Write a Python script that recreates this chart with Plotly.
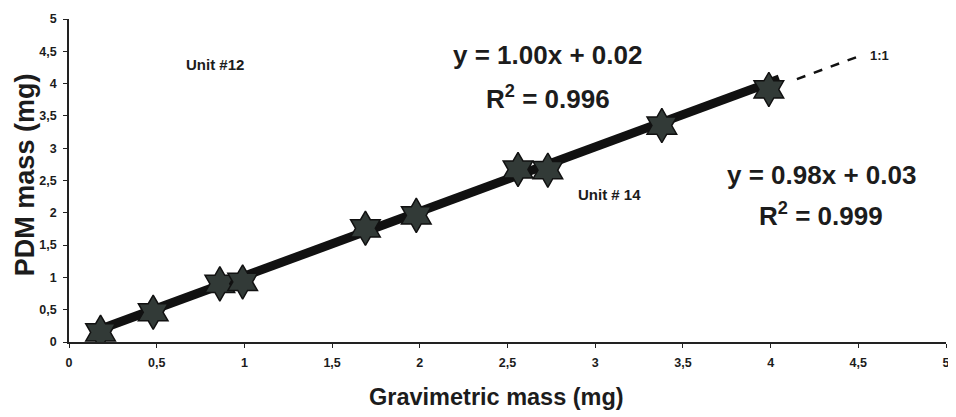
import plotly.graph_objects as go

# Data
grav_mass = [0.18, 0.48, 0.86, 0.99, 1.69, 1.98, 2.56, 2.73, 3.38, 3.99]
pdm_mass = [0.15, 0.46, 0.90, 0.93, 1.76, 1.96, 2.67, 2.66, 3.35, 3.91]
fit_x = [0.15, 4.05]
fit_slope, fit_intercept = 1.00, 0.02
fit_y = [fit_slope * v + fit_intercept for v in fit_x]
one_to_one_x = [4.15, 4.5]
one_to_one_y = [4.07, 4.42]
tick_vals = [0, 0.5, 1, 1.5, 2, 2.5, 3, 3.5, 4, 4.5, 5]
tick_text = ["0", "0,5", "1", "1,5", "2", "2,5", "3", "3,5", "4", "4,5", "5"]

FONT = "Liberation Sans, Arial"
INK = "#1c1c1c"

fig = go.Figure()
fig.add_trace(go.Scatter(x=fit_x, y=fit_y, mode="lines",
                         line=dict(color="#111111", width=9), hoverinfo="skip"))
fig.add_trace(go.Scatter(x=one_to_one_x, y=one_to_one_y, mode="lines",
                         line=dict(color="#111111", width=2.5, dash="dash"), hoverinfo="skip"))
fig.add_trace(go.Scatter(x=grav_mass, y=pdm_mass, mode="markers",
                         marker=dict(symbol="hexagram", size=26, color="#323a37",
                                     line=dict(color="#111111", width=1.5))))

anns = [
    dict(x=0.83, y=4.29, text="<b>Unit #12</b>", size=15),
    dict(x=2.73, y=4.44, text="<b>y = 1.00x + 0.02</b>", size=26),
    dict(x=2.73, y=3.79, text="<b>R<sup>2</sup> = 0.996</b>", size=26),
    dict(x=3.08, y=2.28, text="<b>Unit # 14</b>", size=15),
    dict(x=4.29, y=2.585, text="<b>y = 0.98x + 0.03</b>", size=26),
    dict(x=4.29, y=1.98, text="<b>R<sup>2</sup> = 0.999</b>", size=26),
    dict(x=4.62, y=4.44, text="<b>1:1</b>", size=13),
]
for a in anns:
    fig.add_annotation(x=a["x"], y=a["y"], text=a["text"], showarrow=False,
                       xanchor="center", yanchor="middle",
                       font=dict(family=FONT, size=a["size"], color=INK))

# axis titles as paper annotations for exact placement
fig.add_annotation(xref="paper", yref="paper", x=0.487, y=-0.170,
                   xanchor="center", yanchor="middle",
                   text="<b>Gravimetric mass (mg)</b>", showarrow=False,
                   font=dict(family=FONT, size=23.5, color=INK))
fig.add_annotation(xref="paper", yref="paper", x=-0.050, y=0.517,
                   xanchor="center", yanchor="middle",
                   text="<b>PDM mass (mg)</b>", showarrow=False, textangle=-90,
                   font=dict(family=FONT, size=27, color=INK))

# page body has an 8px margin, so the figure is sized/offset to compensate
fig.update_layout(
    width=948, height=409,
    margin=dict(l=61, r=10, t=11, b=75),
    paper_bgcolor="white", plot_bgcolor="white",
    showlegend=False,
    font=dict(family=FONT, color=INK),
)
axis_common = dict(range=[0, 5], tickvals=tick_vals, ticktext=tick_text,
                   showgrid=False, zeroline=False, showline=True, linecolor="#222222", linewidth=1.5,
                   ticks="outside", ticklen=4, tickcolor="#222222", automargin=False,
                   tickfont=dict(size=12.5, family=FONT, weight="bold", color=INK))
fig.update_xaxes(**axis_common, ticklabelstandoff=4)
fig.update_yaxes(**axis_common, ticklabelstandoff=4)

fig.write_html("out.html")
